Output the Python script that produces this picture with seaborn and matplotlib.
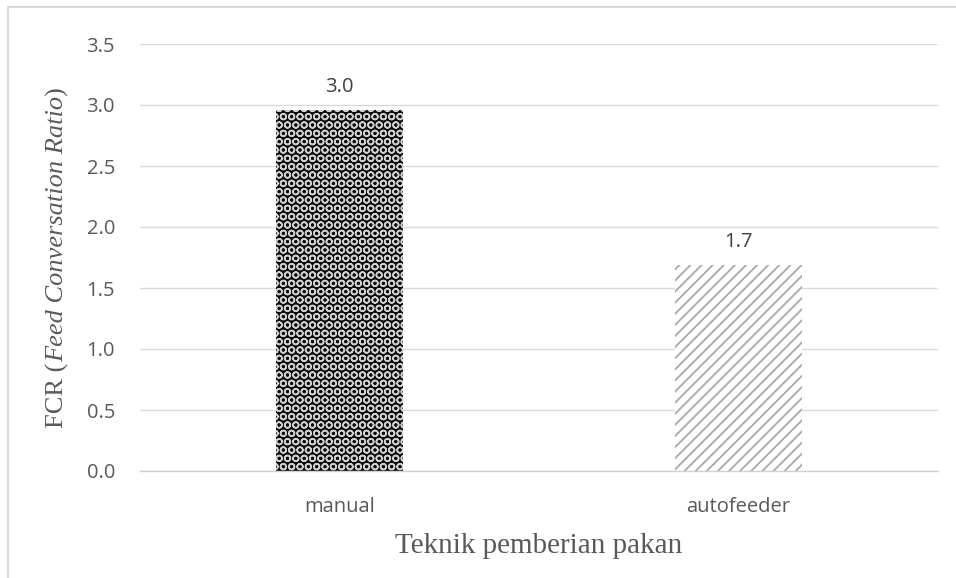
import matplotlib
matplotlib.use("Agg")
import matplotlib.pyplot as plt
import seaborn as sns
import pandas as pd
from matplotlib.patches import Rectangle

categories = ["manual", "autofeeder"]
fcr_values = [2.96, 1.69]
value_labels = ["3.0", "1.7"]
y_ticks = [0.0, 0.5, 1.0, 1.5, 2.0, 2.5, 3.0, 3.5]
ylabel_parts = [("FCR (", "normal"), ("Feed Conversation Ratio", "italic"), (")", "normal")]

df = pd.DataFrame({"teknik": categories, "fcr": fcr_values})

sns.set_theme(style="white")
plt.rcParams["font.family"] = ["Open Sans", "DejaVu Sans"]
plt.rcParams["hatch.linewidth"] = 1.2

W, H = 956, 578
fig = plt.figure(figsize=(W/100, H/100), dpi=100)
ax = fig.add_axes([140/W, 1-471/H, (938-140)/W, (471-44)/H])

sns.barplot(data=df, x="teknik", y="fcr", ax=ax, width=0.32, color="white",
            errorbar=None, saturation=1)

styles = [dict(face="#0d0d0d", hatch="OO", edge="#d0d0d0", hlw=1.1),
          dict(face="white", hatch="///", edge="#a8a8a8", hlw=1.3)]
for patch, st in zip(ax.patches, styles):
    patch.set_facecolor(st["face"])
    patch.set_hatch(st["hatch"])
    patch.set_edgecolor(st["edge"])
    patch.set_linewidth(0)
    patch.set_hatch_linewidth(st["hlw"])

ax.bar_label(ax.containers[0], labels=value_labels, padding=9,
             fontsize=14.5, color="#404040")

ax.set_ylim(0, 3.5)
ax.set_yticks(y_ticks)
ax.set_yticklabels([f"{t:.1f}" for t in y_ticks])
ax.yaxis.grid(True, color="#d9d9d9", linewidth=1)
ax.set_axisbelow(True)
for s in ["top", "right", "left"]:
    ax.spines[s].set_visible(False)
ax.spines["bottom"].set_color("#d0d0d0")
ax.spines["bottom"].set_linewidth(1)
ax.tick_params(axis="both", length=0, labelsize=14.5, labelcolor="#595959")
ax.tick_params(axis="y", pad=18)
ax.tick_params(axis="x", pad=19)

ax.set_xlabel("Teknik pemberian pakan", family="Liberation Serif",
              fontsize=21, color="#595959", labelpad=11)
ax.set_ylabel("")

# y label built from a regular and an italic part
renderer = fig.canvas.get_renderer()
texts = []
for s, style in ylabel_parts:
    t = fig.text(0, 0, s, rotation=90, ha="center", va="bottom",
                 family="Liberation Serif", style=style, fontsize=19,
                 color="#595959")
    texts.append(t)
heights = [t.get_window_extent(renderer).height for t in texts]
total = sum(heights)
cx, cy = 57, H - (44 + 471) / 2
y = cy - total / 2
for t, h in zip(texts, heights):
    t.set_position((cx / W, y / H))
    y += h

# outer chart frame (cropped)
fig.patches.append(Rectangle((8/W, -0.1), 1.2, 1 - 7/H + 0.1,
                             transform=fig.transFigure, fill=False,
                             edgecolor="#d9d9d9", linewidth=1.5))

fig.savefig("out.png", dpi=100)
